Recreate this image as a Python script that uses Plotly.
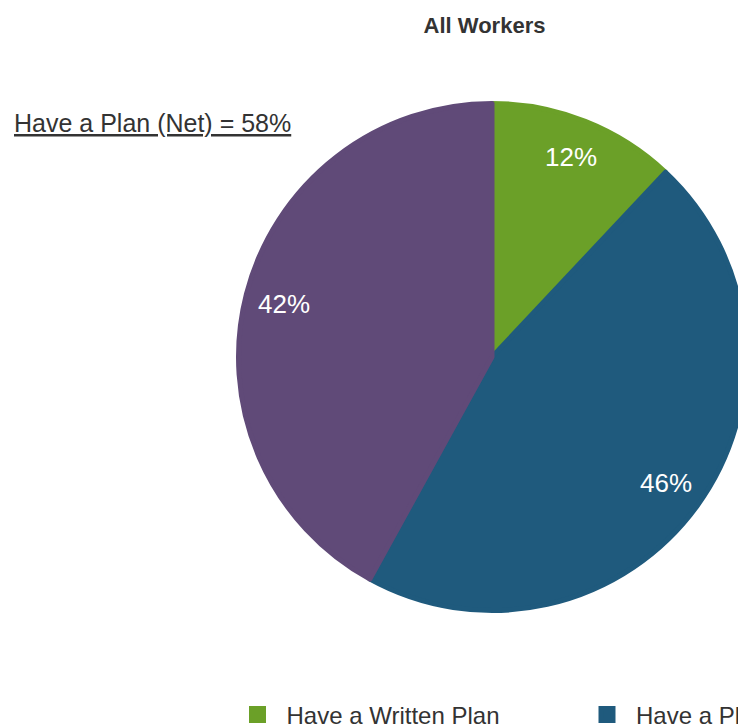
import math

import plotly.graph_objects as go

# Share of all workers by retirement plan status
labels = ["Have a Written Plan", "Have a Plan (Not Written)", "Do Not Have a Plan"]
values = [12, 46, 42]
colors = ["#6BA028", "#1F5A7D", "#604A78"]

W, H = 746, 727
FONT = "Liberation Sans, Arial, sans-serif"

# pie placement in figure pixels (page has an 8px body margin)
cx, cy, r = 484, 349, 256
edge = 5  # slice outline in the slice colour; also enlarges the legend swatches
r_dom = r - edge / 2
dom_x = [(cx - r_dom) / W, (cx + r_dom) / W]
dom_y = [1 - (cy + r_dom) / H, 1 - (cy - r_dom) / H]

fig = go.Figure()

fig.add_trace(
    go.Pie(
        labels=labels,
        values=values,
        sort=False,
        direction="clockwise",
        rotation=0,
        marker=dict(colors=colors, line=dict(color=colors, width=edge)),
        textinfo="none",
        domain=dict(x=dom_x, y=dom_y),
        hoverinfo="label+percent",
    )
)

# value labels sit well out towards the rim, as in the original
annotations = []
total = sum(values)
start = 0
for v in values:
    mid = math.radians((start + v / 2) / total * 360)
    start += v
    px = cx + 0.84 * r * math.sin(mid)
    py = cy - 0.84 * r * math.cos(mid)
    annotations.append(
        dict(
            text=f"{v}%",
            x=px / W,
            y=1 - py / H,
            xref="paper",
            yref="paper",
            xanchor="center",
            yanchor="middle",
            showarrow=False,
            font=dict(family=FONT, size=26, color="white"),
        )
    )

annotations.append(
    dict(
        text="<u>Have a Plan (Net) = 58%</u>",
        x=4 / W,
        xref="paper",
        xanchor="left",
        y=1 - 115 / H,
        yref="paper",
        yanchor="middle",
        showarrow=False,
        font=dict(family=FONT, size=25, color="#333333"),
    )
)

fig.update_layout(
    width=W,
    height=H,
    margin=dict(l=0, r=0, t=0, b=0, autoexpand=False),
    paper_bgcolor="white",
    plot_bgcolor="white",
    font=dict(family=FONT, color="#333333"),
    title=dict(
        text="<b>All Workers</b>",
        x=476.5 / W,
        xanchor="center",
        y=1 - 17 / H,
        yanchor="middle",
        font=dict(family=FONT, size=22, color="#333333"),
    ),
    legend=dict(
        orientation="h",
        x=220.5 / W,
        xanchor="left",
        y=1 - 684.5 / H,
        yanchor="top",
        itemwidth=48,
        entrywidth=286.5,
        font=dict(family=FONT, size=24, color="#333333"),
    ),
    annotations=annotations,
)

fig.write_html("out.html")
